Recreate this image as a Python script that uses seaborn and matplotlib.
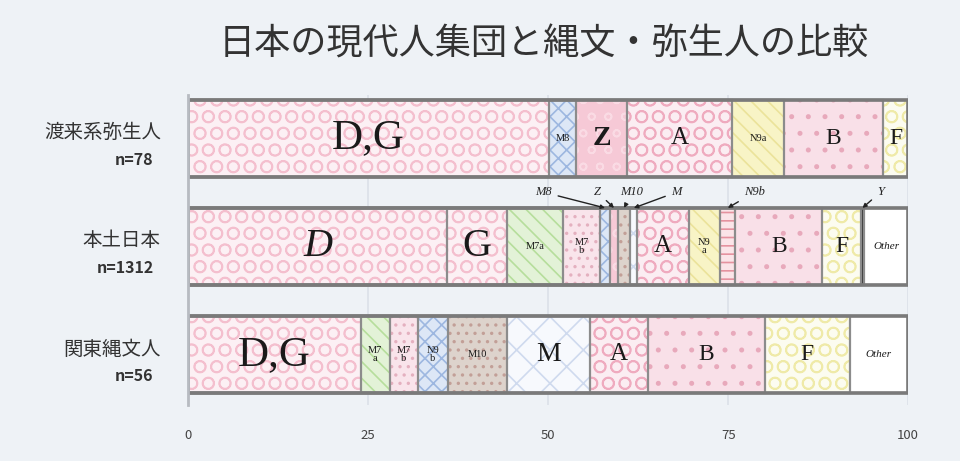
import pandas as pd
import matplotlib.pyplot as plt
import seaborn as sns
from matplotlib.transforms import blended_transform_factory

# ---- data ----
rows = ['渡来系弥生人', '本土日本', '関東縄文人']
sizes = ['n=78', 'n=1312', 'n=56']

yayoi_groups = ['D,G', 'M8', 'Z', 'A', 'N9a', 'B', 'F']
yayoi_pct = [50.1, 3.8, 7.1, 14.6, 7.1, 13.8, 3.5]

mainland_groups = ['D', 'G', 'M7a', 'M7b', 'M8', 'Z', 'M10', 'M', 'A',
                   'N9a', 'N9b', 'B', 'F', 'Y', 'Other']
mainland_pct = [36.0, 8.3, 7.8, 5.1, 1.4, 1.1, 1.7, 1.0, 7.1,
                4.4, 2.1, 12.1, 5.3, 0.5, 6.1]

jomon_groups = ['D,G', 'M7a', 'M7b', 'N9b', 'M10', 'M', 'A', 'B', 'F', 'Other']
jomon_pct = [24.0, 4.0, 3.9, 4.2, 8.2, 11.5, 8.1, 16.2, 11.8, 8.1]

xticks = [0, 25, 50, 75, 100]
title = '日本の現代人集団と縄文・弥生人の比較'

# ---- styles ----
# face colour, hatch, hatch colour
patterns = {
    'D,G': ('#fcf0f4', 'O', '#f4bfce'),
    'D': ('#fcf0f4', 'O', '#f4bfce'),
    'G': ('#fcf0f4', 'O', '#f4bfce'),
    'A': ('#fbedf2', 'O', '#efabbf'),
    'Z': ('#f6c9d6', 'o', '#fadbe4'),
    'B': ('#f9e0e8', '.', '#e8a9bb'),
    'M7b': ('#f9e4eb', '..', '#e4b0bf'),
    'F': ('#fcfcf0', 'O', '#efeaa8'),
    'N9a': ('#f8f4c6', '\\\\', '#ebe39a'),
    'M8': ('#dde7f6', 'xx', '#9db7e0'),
    'M7a': ('#e3f2d7', '\\\\', '#b6de9c'),
    'M10': ('#ddd3cc', '..', '#c29f97'),
    'M': ('#f7f9fd', 'x', '#cfdaee'),
    'N9b': ('#fbe4e8', '--', '#e5929f'),
    'Y': ('#333333', '', '#333333'),
    'Other': ('#ffffff', '', '#ffffff'),
}
# the Jomon row shows its N9b in the blue check
pattern_override = {(2, 'N9b'): ('#dde7f6', 'xx', '#9db7e0')}
label_size = {'D,G': 31, 'D': 29, 'G': 29, 'M': 20, 'Z': 20, 'A': 18,
              'B': 17, 'F': 17, 'Other': 8}
# horizontal offset of outside labels (thin segments), data units
outside_dx = {'M8': -8.5, 'Z': -2.3, 'M10': 1.1, 'M': 5.9, 'N9b': 3.7, 'Y': 2.5}

bg = '#eef2f6'
edge = '#8c8c8c'
bar_w = 0.71

sns.set_theme(style='white')
plt.rcParams['font.family'] = ['Noto Sans CJK JP', 'DejaVu Sans']
plt.rcParams['hatch.linewidth'] = 1.2

# long table with cumulative positions
records = []
for r, (groups, pct) in enumerate([(yayoi_groups, yayoi_pct),
                                   (mainland_groups, mainland_pct),
                                   (jomon_groups, jomon_pct)]):
    start = 0.0
    for k, (g, v) in enumerate(zip(groups, pct)):
        records.append(dict(row=rows[r], r=r, k=k, group=g, pct=v,
                            start=start, end=start + v))
        start += v
df = pd.DataFrame(records)

fig = plt.figure(figsize=(9.6, 4.61), dpi=100, facecolor=bg)
ax = fig.add_axes([0.196, 0.121, 0.75, 0.673])
ax.set_facecolor(bg)

# filled segments: cumulative bars drawn longest first
for k in sorted(df.k.unique(), reverse=True):
    sub = df[df.k == k]
    n0 = len(ax.patches)
    sns.barplot(data=sub, x='end', y='row', order=rows, orient='h',
                width=bar_w, color='white', saturation=1, linewidth=0,
                errorbar=None, ax=ax)
    for p in ax.patches[n0:]:
        r = int(round(p.get_y() + p.get_height() / 2))
        g = sub.loc[sub.r == r, 'group'].iloc[0]
        face, hatch, hcol = pattern_override.get((r, g), patterns[g])
        p.set_facecolor(face)
        p.set_edgecolor(hcol)
        p.set_hatch(hatch)
        p.set_linewidth(0)

# segment borders
for k in sorted(df.k.unique(), reverse=True):
    sub = df[df.k == k]
    sns.barplot(data=sub, x='end', y='row', order=rows, orient='h',
                width=bar_w, fill=False, color=edge, linewidth=1.6,
                errorbar=None, ax=ax)
totals = df.groupby('row', sort=False)['pct'].sum().reset_index()
sns.barplot(data=totals, x='pct', y='row', order=rows, orient='h',
            width=bar_w, fill=False, color='#7a7a7a', linewidth=2.6,
            errorbar=None, ax=ax)

# segment labels
serif = 'Liberation Serif'
for rec in df.itertuples():
    mid = (rec.start + rec.end) / 2
    if rec.pct < 2.5:
        ax.annotate(rec.group, xy=(mid, rec.r - bar_w / 2),
                    xytext=(mid + outside_dx.get(rec.group, 0), rec.r - 0.5),
                    ha='center', va='center', fontsize=9, style='italic',
                    family=serif, color='#222',
                    arrowprops=dict(arrowstyle='-|>', color='#222', lw=1,
                                    mutation_scale=6, shrinkA=2, shrinkB=0))
        continue
    text = rec.group
    if rec.pct < 5.5 and len(text) >= 3 and text != 'Other':
        text = text[:2] + '\n' + text[2:]
    fs = label_size.get(rec.group, 7.5)
    ax.text(mid, rec.r, text, ha='center', va='center', fontsize=fs,
            family=serif, color='#1a1a1a', linespacing=0.8,
            style='italic' if rec.group in ('Other', 'D') else 'normal',
            fontweight='bold' if rec.group == 'Z' else 'normal')

# axes cosmetics
ax.set_xlim(0, 100)
ax.set_ylim(2.47, -0.40)
ax.set_xticks(xticks)
ax.set_xticklabels([str(t) for t in xticks])
ax.grid(axis='x', color='#dbe1e8', lw=1.2)
ax.grid(axis='y', visible=False)
ax.set_axisbelow(True)
for s in ['top', 'right', 'bottom']:
    ax.spines[s].set_visible(False)
ax.spines['left'].set_color('#b7bbc1')
ax.spines['left'].set_linewidth(2)
ax.tick_params(axis='x', length=0, pad=17, labelsize=9.5, labelcolor='#444')
ax.tick_params(axis='y', length=0, labelleft=False)
ax.set_xlabel('')
ax.set_ylabel('')

tr = blended_transform_factory(ax.transAxes, ax.transData)
for r, (name, n) in enumerate(zip(rows, sizes)):
    ax.text(-0.038, r - 0.05, name, transform=tr, ha='right', va='center',
            fontsize=14, color='#333')
    ax.text(-0.048, r + 0.2, n, transform=tr, ha='right', va='center',
            fontsize=11.5, fontweight='bold', color='#333')

fig.text(544 / 960, 1 - 45 / 461, title, ha='center', va='center',
         fontsize=26, color='#333')

fig.savefig('out.png', dpi=100, facecolor=bg)
